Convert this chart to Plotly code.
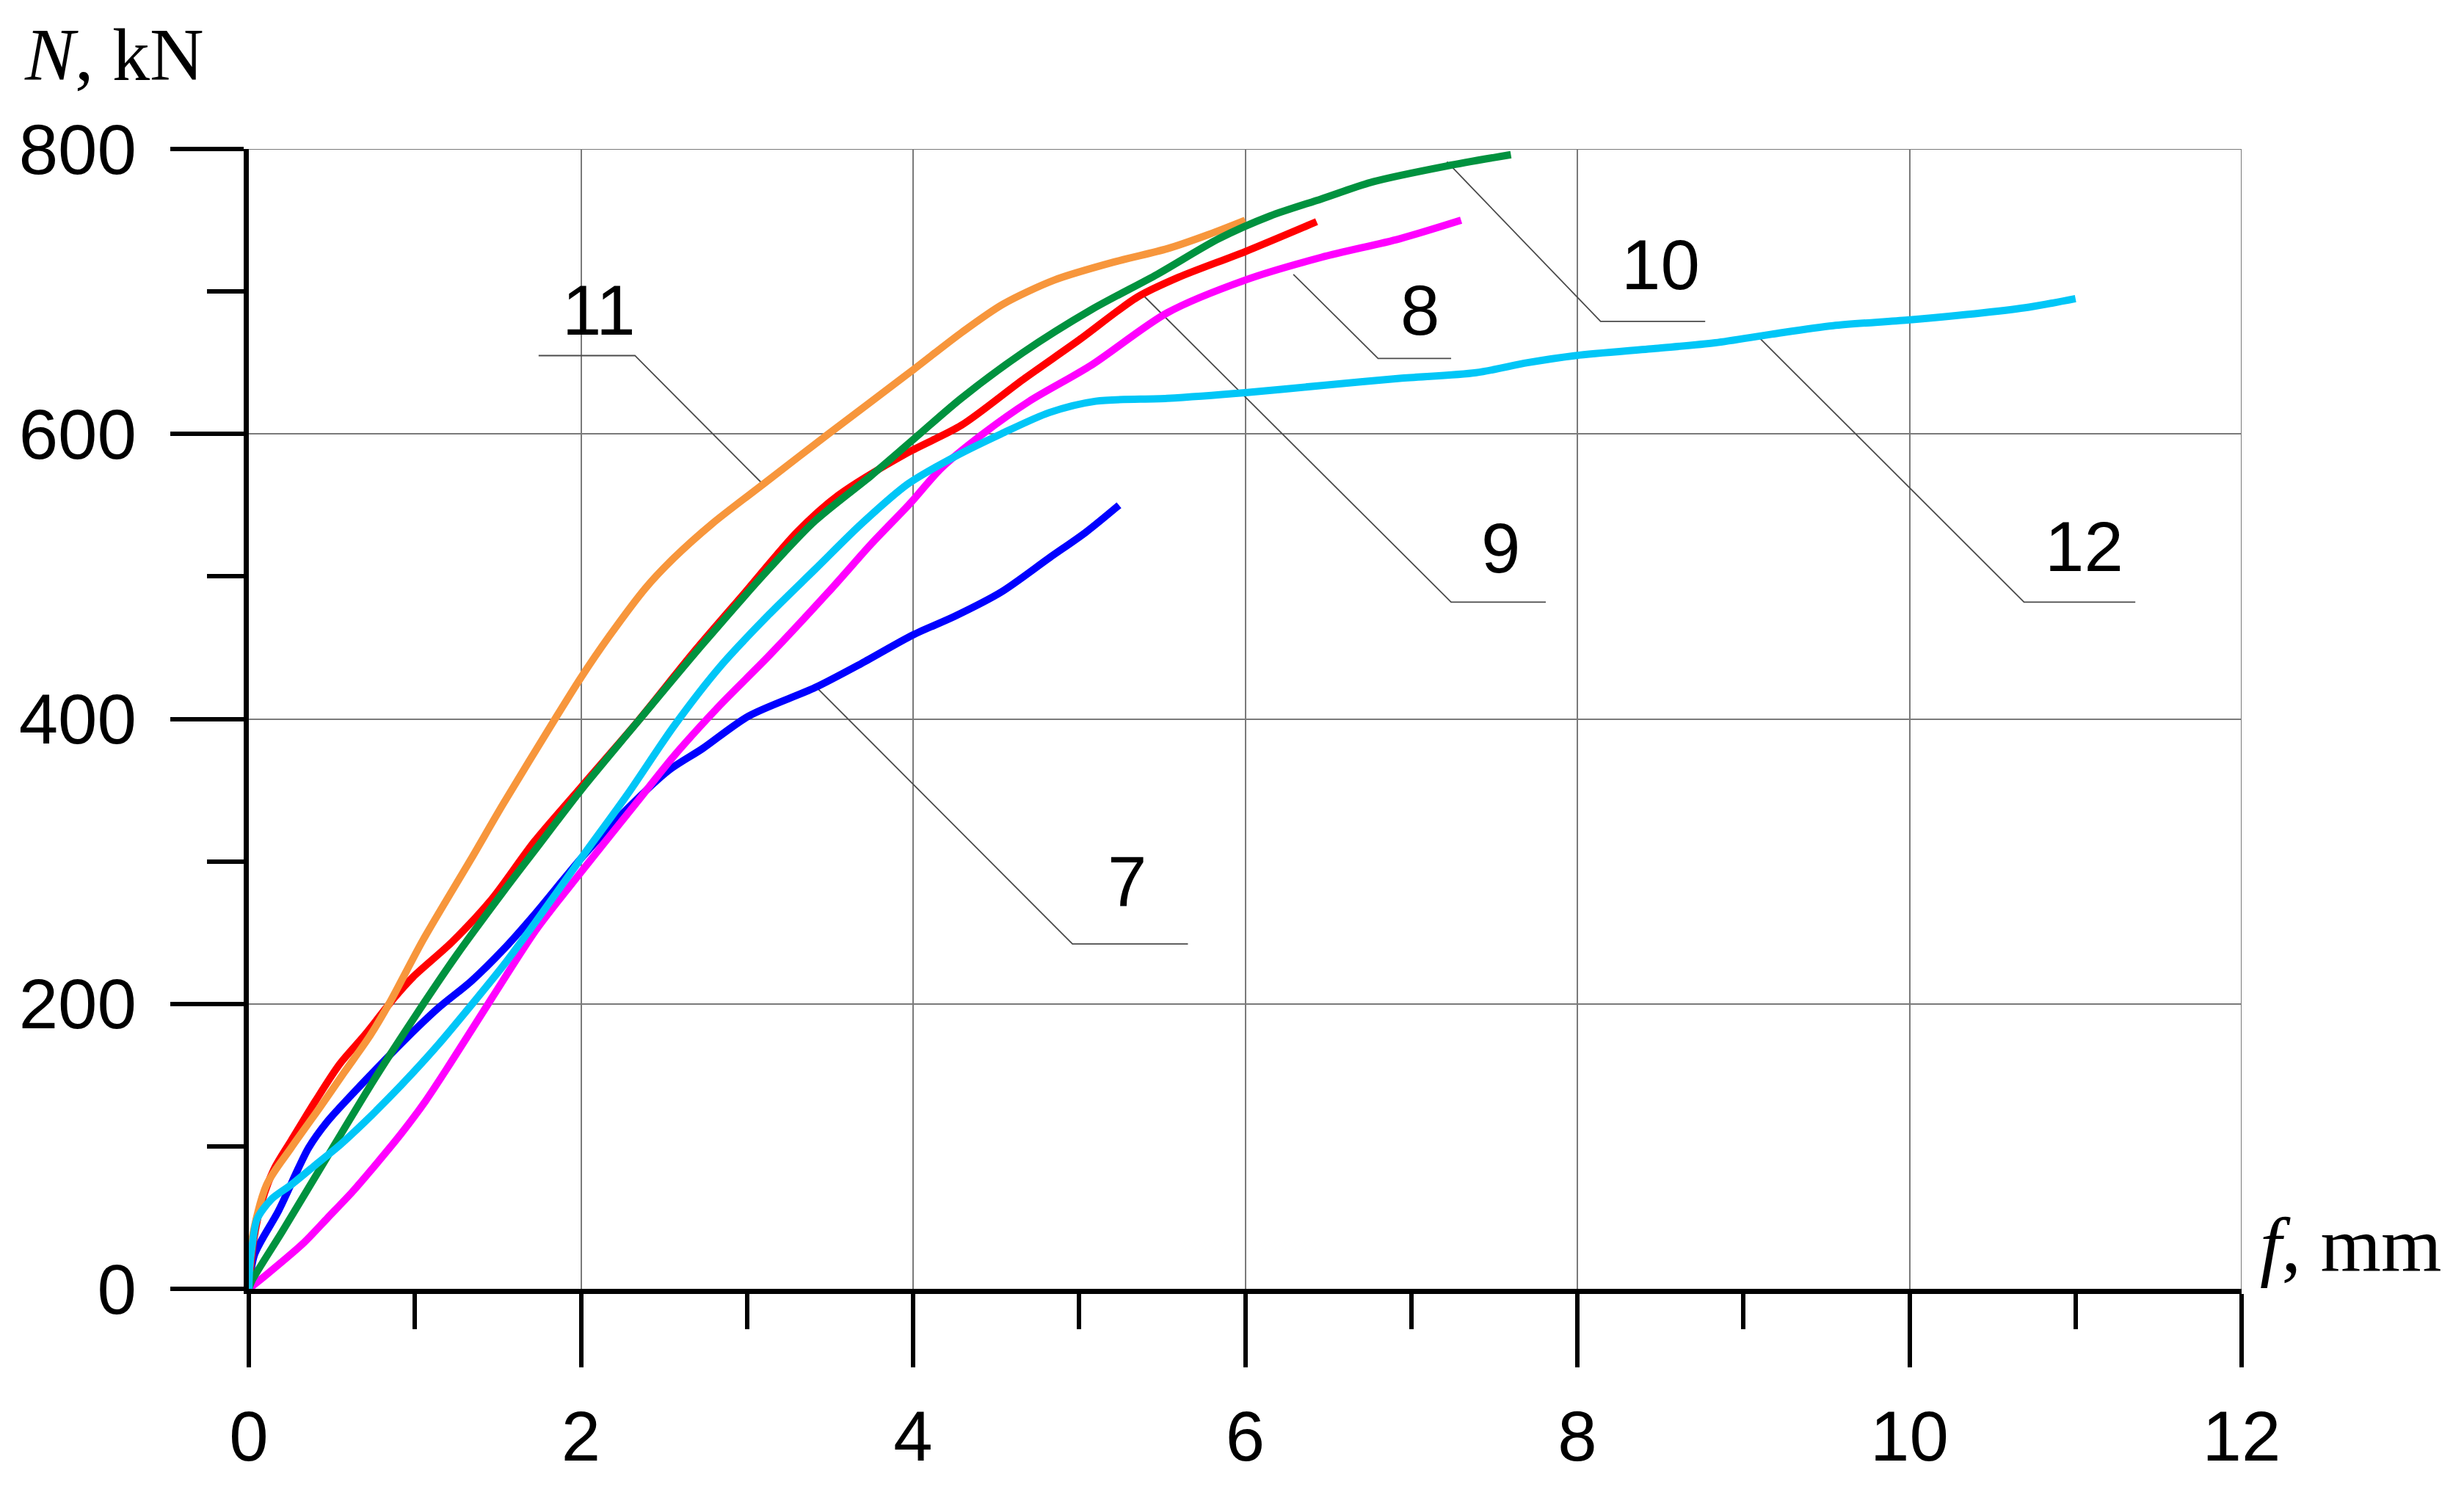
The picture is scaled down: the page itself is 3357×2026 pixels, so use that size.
import plotly.graph_objects as go

# ---- data ----
x7 = [0, 0.034, 0.18, 0.3, 0.36, 0.47, 0.61, 0.79, 0.95, 1.14, 1.34, 1.54, 1.73, 2.0, 2.28, 2.53, 2.73, 3.01, 3.41, 3.69, 4.0, 4.25, 4.53, 4.82, 5.04, 5.24]
y7 = [0, 24, 55, 85, 99, 117, 135, 157, 176, 197, 216, 239, 264, 302, 337, 364, 379, 402, 422, 439, 459, 472, 489, 513, 531, 550]

x8 = [0, 0.004, 0.03, 0.078, 0.152, 0.255, 0.402, 0.549, 0.697, 0.874, 0.99, 1.22, 1.46, 1.72, 2.0, 2.34, 2.68, 2.99, 3.3, 3.55, 3.97, 4.29, 4.66, 5.0, 5.35, 5.6, 6.0, 6.43]
y8 = [0, 7, 35, 61, 84, 104, 132, 158, 178, 204, 219, 243, 273, 314, 352, 398, 447, 489, 531, 557, 587, 606, 638, 666, 696, 710, 728, 749]

x9 = [0, 0.107, 0.328, 0.476, 0.623, 0.77, 0.918, 1.065, 1.212, 1.463, 1.73, 1.99, 2.34, 2.56, 2.84, 3.13, 3.49, 3.75, 3.98, 4.17, 4.42, 4.7, 5.07, 5.53, 6.0, 6.46, 6.93, 7.3]
y9 = [0, 10, 32, 50, 68, 88, 109, 132, 158, 204, 252, 291, 342, 374, 410, 444, 489, 523, 551, 576, 600, 623, 648, 685, 708, 724, 737, 750]

x10 = [0, 0.02, 0.2, 0.5, 0.75, 1.0, 1.25, 1.54, 1.73, 2.0, 2.37, 2.73, 3.13, 3.41, 3.75, 4.0, 4.29, 4.66, 5.07, 5.47, 5.84, 6.15, 6.46, 6.77, 7.21, 7.6]
y10 = [0, 6, 40, 98, 146, 191, 234, 280, 309, 350, 402, 452, 505, 539, 571, 596, 625, 657, 687, 712, 737, 753, 765, 777, 788, 796]

x11 = [0, 0.02, 0.107, 0.255, 0.432, 0.575, 0.726, 0.844, 1.05, 1.34, 1.53, 1.86, 2.0, 2.17, 2.39, 2.56, 2.79, 3.1, 3.49, 4.0, 4.29, 4.54, 4.85, 5.22, 5.53, 5.78, 6.0]
y11 = [0, 35, 73, 99, 128, 152, 177, 200, 245, 302, 340, 403, 429, 458, 492, 513, 537, 565, 600, 645, 671, 691, 708, 721, 730, 740, 750]

x12 = [0, 0.005, 0.02, 0.05, 0.137, 0.255, 0.402, 0.549, 0.697, 0.844, 0.991, 1.138, 1.374, 1.54, 1.73, 2.0, 2.28, 2.56, 2.84, 3.13, 3.41, 3.69, 3.97, 4.25, 4.53, 4.82, 5.1, 5.53, 6.0, 6.46, 6.93, 7.39, 7.7, 7.99, 8.47, 8.83, 9.17, 9.54, 9.99, 10.44, 10.72, 11.0]
y12 = [0, 15, 30, 49, 63, 73, 87, 101, 117, 134, 152, 171, 204, 228, 258, 302, 347, 395, 437, 473, 505, 537, 565, 584, 600, 615, 623, 625, 629, 634, 639, 643, 650, 655, 660, 664, 670, 676, 680, 685, 689, 695]

labels = ["7", "8", "9", "10", "11", "12"]
label_x = [5.29, 7.05, 7.54, 8.5, 2.11, 11.05]
label_y = [286, 687, 520, 719, 687, 521]

# leader lines (label callouts)
lead_x = [[3.42, 4.96, 5.655], [6.29, 6.8, 7.24], [5.38, 7.24, 7.81],
          [7.215, 8.14, 8.77], [3.085, 2.325, 1.745], [9.1, 10.69, 11.36]]
lead_y = [[422, 242, 242], [712, 653, 653], [698, 482, 482],
          [791, 679, 679], [566, 655, 655], [667, 482, 482]]

x_ticks = [0, 2, 4, 6, 8, 10, 12]
y_ticks = [0, 200, 400, 600, 800]

series = [
    (x7, y7, "#0000FF"),
    (x9, y9, "#FF00FF"),
    (x8, y8, "#FF0000"),
    (x11, y11, "#F7963C"),
    (x10, y10, "#00923F"),
    (x12, y12, "#00C6F7"),
]

fig = go.Figure()

for lx, ly in zip(lead_x, lead_y):
    fig.add_trace(go.Scatter(x=lx, y=ly, mode="lines",
                             line=dict(color="#4a4a4a", width=1.8),
                             hoverinfo="skip", showlegend=False))

for xs, ys, col in series:
    fig.add_trace(go.Scatter(x=xs, y=ys, mode="lines",
                             line=dict(color=col, width=10, shape="spline", smoothing=0.8),
                             showlegend=False))

for t, lx, ly in zip(labels, label_x, label_y):
    fig.add_annotation(x=lx, y=ly, text=t, showarrow=False,
                       font=dict(family="Liberation Sans, Arial, sans-serif", size=96, color="black"),
                       xanchor="center", yanchor="middle")

fig.add_annotation(xref="paper", yref="paper", x=-0.1135, y=1.083,
                   text="<i>N</i>, kN", showarrow=False, xanchor="left", yanchor="middle",
                   font=dict(family="Liberation Serif, Times New Roman, serif", size=102, color="black"))
fig.add_annotation(xref="paper", yref="paper", x=1.0085, y=0.038,
                   text="<i>f</i>, mm", showarrow=False, xanchor="left", yanchor="middle",
                   font=dict(family="Liberation Serif, Times New Roman, serif", size=106, color="black"))

axis_common = dict(
    showline=True, linecolor="black", linewidth=7,
    ticks="outside", tickcolor="black", tickwidth=6,
    ticklen=100,
    showgrid=True, gridcolor="#7a7a7a", gridwidth=2,
    zeroline=False, automargin=False,
    tickfont=dict(family="Liberation Sans, Arial, sans-serif", size=96, color="black"),
)

fig.update_xaxes(range=[0, 12], tickvals=x_ticks, ticktext=[str(v) for v in x_ticks],
                 minor=dict(dtick=1, tick0=0, ticks="outside", ticklen=48, tickwidth=6,
                            tickcolor="black", showgrid=False),
                 ticklabelstandoff=12, **axis_common)
fig.update_yaxes(range=[0, 800], tickvals=y_ticks, ticktext=[str(v) for v in y_ticks],
                 minor=dict(dtick=100, tick0=0, ticks="outside", ticklen=50, tickwidth=6,
                            tickcolor="black", showgrid=False),
                 ticklabelstandoff=27, **axis_common)

# top and right frame grid lines
fig.add_shape(type="line", xref="x", yref="y", x0=0, x1=12, y0=800, y1=800,
              line=dict(color="#7a7a7a", width=2))
fig.add_shape(type="line", xref="x", yref="y", x0=12, x1=12, y0=0, y1=800,
              line=dict(color="#7a7a7a", width=2))

fig.update_layout(
    width=3341, height=2010,
    margin=dict(l=331, r=295, t=195, b=262),
    plot_bgcolor="white", paper_bgcolor="white",
)

fig.write_html("out.html")
